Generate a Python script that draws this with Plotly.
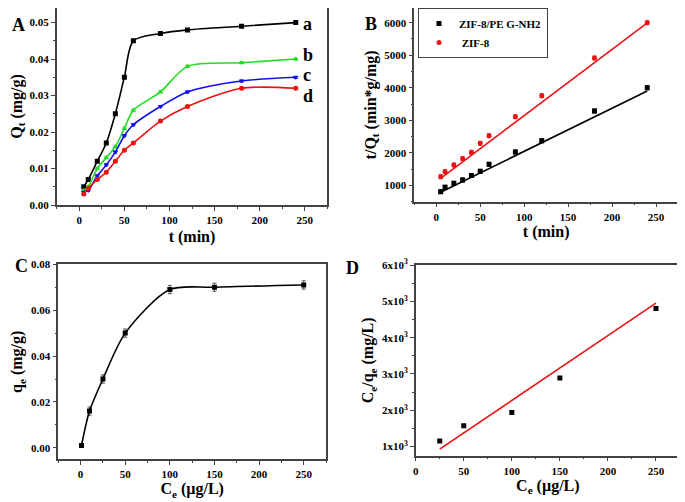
import numpy as np
import plotly.graph_objects as go

# panel A - kinetics
t_min = [5, 10, 20, 30, 40, 50, 60, 90, 120, 180, 240]
qt_a = [0.005, 0.007, 0.012, 0.017, 0.025, 0.035, 0.045, 0.047, 0.048, 0.049, 0.050]
qt_b = [0.004, 0.005, 0.010, 0.013, 0.016, 0.021, 0.026, 0.031, 0.038, 0.039, 0.040]
qt_c = [0.0035, 0.004, 0.008, 0.011, 0.0145, 0.019, 0.022, 0.027, 0.031, 0.034, 0.035]
qt_d = [0.003, 0.0045, 0.007, 0.009, 0.012, 0.015, 0.017, 0.023, 0.027, 0.032, 0.032]
curve_labels = ['a', 'b', 'c', 'd']

# panel B - pseudo second order
t_over_q_peg = [805, 940, 1060, 1165, 1300, 1430, 1645, 2025, 2370, 3285, 4000]
t_over_q_zif = [1266, 1420, 1625, 1820, 2015, 2290, 2525, 3110, 3755, 4915, 6000]
err_b = [60, 60, 60, 60, 60, 60, 60, 60, 60, 60, 60]
fit_peg = (13.25, 720)   # slope, intercept
fit_zif = (20.33, 1113)

# panel C - isotherm
ce = [1, 10, 25, 50, 100, 150, 250]
qe = [0.001, 0.016, 0.030, 0.050, 0.069, 0.070, 0.071]
err_c = [0.0005, 0.0018, 0.0018, 0.0018, 0.0018, 0.0018, 0.0018]

# panel D - Langmuir linear form
ce_d = [25, 50, 100, 150, 250]
ce_over_qe = [1155, 1576, 1940, 2890, 4800]
fit_d = (17.87, 483)
d_tickvals = [1000, 2000, 3000, 4000, 5000, 6000]
d_ticktext = ['1x10<sup>3</sup>', '2x10<sup>3</sup>', '3x10<sup>3</sup>',
              '4x10<sup>3</sup>', '5x10<sup>3</sup>', '6x10<sup>3</sup>']

SERIF = 'Liberation Serif'
tickfont = dict(family=SERIF, size=11, color='black', weight='bold')
titlefont = dict(family=SERIF, size=16, color='black', weight='bold')

# the page puts the plot 8px in from the top-left, so size and positions allow for it
W, H, OFF = 677, 494, 8


def px(x):
    return (x - OFF) / W


def py(y):
    return min(1.0, 1 - (y - OFF) / H)


fig = go.Figure()

colors_a = ['black', '#22dd22', '#1010ee', '#ee1111']
symbols_a = ['square', 'triangle-up', 'triangle-down', 'circle']
for q, col, sym in zip([qt_a, qt_b, qt_c, qt_d], colors_a, symbols_a):
    fig.add_trace(go.Scatter(x=t_min, y=q, mode='lines+markers',
                             line=dict(color=col, width=1.6, shape='spline', smoothing=0.8),
                             marker=dict(color=col, symbol=sym, size=5),
                             error_y=dict(type='constant', value=0.0003, color=col, thickness=1, width=2),
                             showlegend=False, xaxis='x', yaxis='y'))

fig.add_trace(go.Scatter(x=t_min, y=t_over_q_peg, mode='markers', name='ZIF-8/PE G-NH2',
                         marker=dict(color='black', symbol='square', size=5),
                         error_y=dict(type='data', array=err_b, color='black', thickness=1, width=2),
                         xaxis='x2', yaxis='y2'))
fig.add_trace(go.Scatter(x=t_min, y=t_over_q_zif, mode='markers', name=' ZIF-8',
                         marker=dict(color='#ee1111', symbol='circle', size=5),
                         error_y=dict(type='data', array=err_b, color='#ee1111', thickness=1, width=2),
                         xaxis='x2', yaxis='y2'))
tx = np.array([t_min[0], t_min[-1]])
for (k, b), col in zip([fit_peg, fit_zif], ['black', '#ee1111']):
    fig.add_trace(go.Scatter(x=tx, y=k * tx + b, mode='lines', line=dict(color=col, width=1.6),
                             showlegend=False, xaxis='x2', yaxis='y2'))

fig.add_trace(go.Scatter(x=ce, y=qe, mode='lines+markers',
                         line=dict(color='black', width=1.6, shape='spline', smoothing=0.8),
                         marker=dict(color='black', symbol='square', size=5),
                         error_y=dict(type='data', array=err_c, color='#555555', thickness=1, width=2),
                         showlegend=False, xaxis='x3', yaxis='y3'))

cx = np.array([ce_d[0], ce_d[-1]])
fig.add_trace(go.Scatter(x=cx, y=fit_d[0] * cx + fit_d[1], mode='lines', line=dict(color='#ee1111', width=1.6),
                         showlegend=False, xaxis='x4', yaxis='y4'))
fig.add_trace(go.Scatter(x=ce_d, y=ce_over_qe, mode='markers', marker=dict(color='black', symbol='square', size=5),
                         showlegend=False, xaxis='x4', yaxis='y4'))


def ax(domain, rng, dtick, title, anchor, standoff=4, **kw):
    d = dict(domain=domain, range=rng, dtick=dtick, anchor=anchor, automargin=False,
             showline=True, linecolor='#444444', linewidth=1.5, mirror=True,
             ticks='outside', ticklen=4, tickcolor='#444444', showgrid=False, zeroline=False,
             minor=dict(ticks='outside', ticklen=2, tickcolor='#444444', dtick=dtick / 2),
             tickfont=tickfont, title=dict(text=title, font=titlefont, standoff=standoff))
    d.update(kw)
    return d


fig.update_layout(
    width=W, height=H, margin=dict(l=0, r=0, t=0, b=0),
    paper_bgcolor='white', plot_bgcolor='white',
    font=dict(family=SERIF, color='black'),
    xaxis=ax([px(56.7), px(327.3)], [-25, 275], 50, 't (min)', 'y', standoff=6),
    yaxis=ax([py(205), py(4.3)], [0, 0.0540], 0.01, 'Q<sub>t</sub> (mg/g)', 'x', tickformat='.2f'),
    xaxis2=ax([px(414.3), px(678)], [-25, 275], 50, 't (min)', 'y2', standoff=3),
    yaxis2=ax([py(201.7), py(4.3)], [496, 6452], 1000, 't/Q<sub>t</sub> (min*g/mg)', 'x2'),
    xaxis3=ax([px(58.3), px(326)], [-25, 275], 50, 'C<sub>e</sub> (µg/L)', 'y3', standoff=0),
    yaxis3=ax([py(459.3), py(264.3)], [-0.005, 0.08], 0.02, 'q<sub>e</sub> (mg/g)', 'x3', tickformat='.2f'),
    xaxis4=ax([px(415.7), px(680)], [0, 275], 50, 'C<sub>e</sub> (µg/L)', 'y4', standoff=0),
    yaxis4=ax([py(455.7), py(265)], [750, 6000], 1000, 'C<sub>e</sub>/q<sub>e</sub> (mg/L)', 'x4',
              tickvals=d_tickvals, ticktext=d_ticktext),
    legend=dict(x=px(418), y=py(8), xanchor='left', yanchor='top', bordercolor='#444444', borderwidth=1,
                bgcolor='white', font=dict(family=SERIF, size=11, color='black', weight='bold'),
                tracegroupgap=0),
)

label_y = [0.0496, 0.0411, 0.0357, 0.0299]
for lab, yv in zip(curve_labels, label_y):
    fig.add_annotation(x=246, y=yv, xref='x', yref='y', text=lab, showarrow=False,
                       xanchor='left', font=dict(family=SERIF, size=18, color='black', weight='bold'))

for lab, x, y in [('A', 10, 13), ('B', 371, 12), ('C', 13, 266), ('D', 352, 268)]:
    fig.add_annotation(x=px(x), y=py(y), xref='paper', yref='paper', text=lab, showarrow=False,
                       font=dict(family=SERIF, size=18, color='black', weight='bold'))

fig.write_html("out.html")
